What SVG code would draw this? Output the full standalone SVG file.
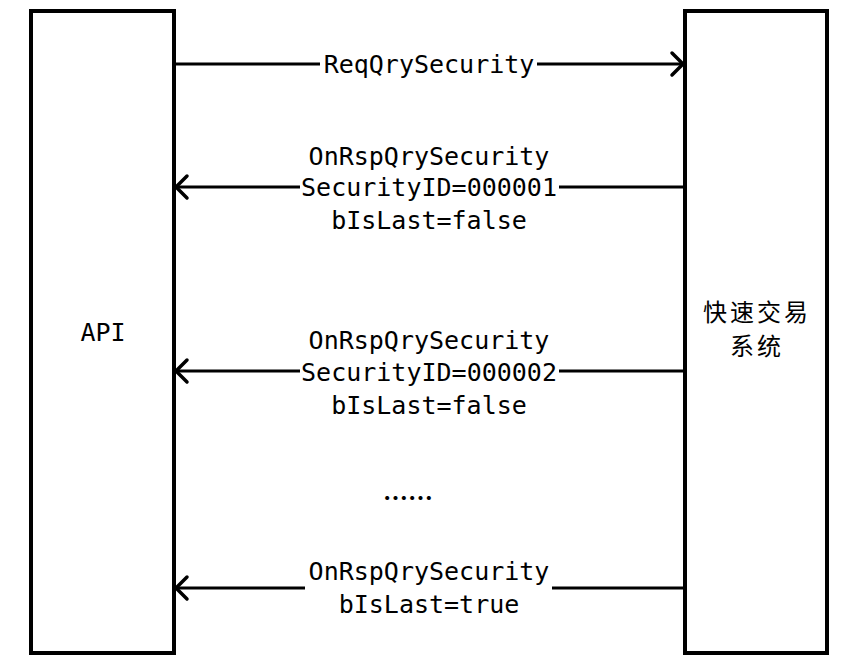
<svg xmlns="http://www.w3.org/2000/svg" width="865" height="669" viewBox="0 0 865 669">
<style>
.box{fill:#fff;stroke:#000;stroke-width:4}
.ln{stroke:#000;stroke-width:3;fill:none}
.hd{stroke:#000;stroke-width:3.5;fill:none;stroke-linecap:round;stroke-linejoin:round}
.t{font-family:"DejaVu Sans Mono","Liberation Mono",monospace;font-size:25px;fill:#000;text-anchor:middle}
.c{font-family:"Noto Sans CJK SC",sans-serif;font-size:24px;fill:#000;text-anchor:middle;letter-spacing:3px}
.e{font-family:"Noto Sans CJK SC",sans-serif;font-size:25px;font-weight:bold;fill:#000;text-anchor:middle}
</style>
<rect width="865" height="669" fill="#fff"/>
<g id="api"><rect class="box" x="31" y="11" width="143" height="642"/><text class="t" x="103" y="341">API</text></g>
<g id="sys"><rect class="box" x="685" y="11" width="142" height="642"/><text class="c" x="757" y="321">快速交易</text><text class="c" x="757" y="355">系统</text></g>
<g id="connectors">
<line class="ln" x1="175" y1="64" x2="320" y2="64"/><line class="ln" x1="537" y1="64" x2="683" y2="64"/>
<polyline class="hd" points="672,53 683,64 672,75"/>
<text class="t" x="429" y="73">ReqQrySecurity</text>
<line class="ln" x1="176" y1="187" x2="300" y2="187"/><line class="ln" x1="559" y1="187" x2="683" y2="187"/>
<polyline class="hd" points="187,176 176,187 187,198"/>
<text class="t" x="429" y="165">OnRspQrySecurity</text>
<text class="t" x="429" y="196">SecurityID=000001</text>
<text class="t" x="429" y="229">bIsLast=false</text>
<line class="ln" x1="176" y1="371" x2="300" y2="371"/><line class="ln" x1="559" y1="371" x2="683" y2="371"/>
<polyline class="hd" points="187,360 176,371 187,382"/>
<text class="t" x="429" y="349">OnRspQrySecurity</text>
<text class="t" x="429" y="381">SecurityID=000002</text>
<text class="t" x="429" y="414">bIsLast=false</text>
<text class="e" x="408" y="508">……</text>
<line class="ln" x1="176" y1="588" x2="305" y2="588"/><line class="ln" x1="552" y1="588" x2="683" y2="588"/>
<polyline class="hd" points="187,577 176,588 187,599"/>
<text class="t" x="429" y="580">OnRspQrySecurity</text>
<text class="t" x="429" y="613">bIsLast=true</text>
</g>
</svg>
